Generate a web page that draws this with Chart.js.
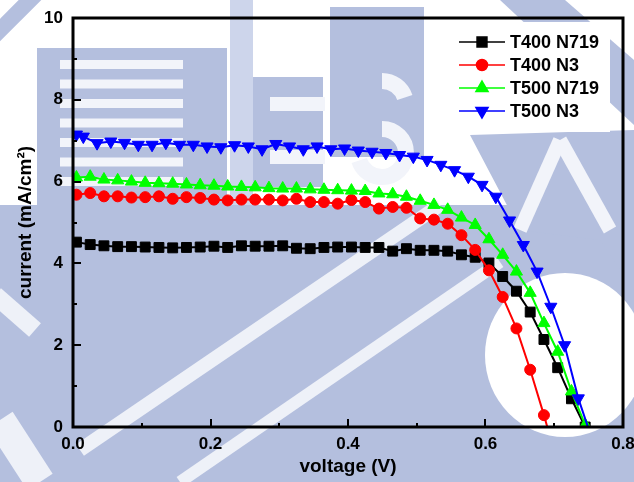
<!DOCTYPE html>
<html>
<head>
<meta charset="utf-8">
<script src="https://cdn.jsdelivr.net/npm/chart.js@4.4.1/dist/chart.umd.min.js"></script>
<style>
  html, body { margin: 0; padding: 0; background: #fff; overflow: hidden; }
  #wrap { width: 634px; height: 482px; }
</style>
</head>
<body>
<div id="wrap"><canvas id="c" width="634" height="482"></canvas></div>
<script>
// Bias voltage (V) for the T400 N719, T400 N3 and T500 N719 sweeps
const voltsA = [0.005, 0.025, 0.045, 0.065, 0.085, 0.105, 0.125, 0.145, 0.165, 0.185,
                0.205, 0.225, 0.245, 0.265, 0.285, 0.305, 0.325, 0.345, 0.365, 0.385,
                0.405, 0.425, 0.445, 0.465, 0.485, 0.505, 0.525, 0.545, 0.565, 0.585,
                0.605, 0.625, 0.645, 0.665, 0.685, 0.705, 0.725, 0.745];
// Bias voltage (V) for the T500 N3 sweep
const voltsB = [0.005, 0.015, 0.035, 0.055, 0.075, 0.095, 0.115, 0.135, 0.155, 0.175,
                0.195, 0.215, 0.235, 0.255, 0.275, 0.295, 0.315, 0.335, 0.355, 0.375,
                0.395, 0.415, 0.435, 0.455, 0.475, 0.495, 0.515, 0.535, 0.555, 0.575,
                0.595, 0.615, 0.635, 0.655, 0.675, 0.695, 0.715, 0.735, 0.755];

// Photocurrent density (mA/cm2)
const t400N719 = [4.52, 4.46, 4.43, 4.41, 4.41, 4.40, 4.39, 4.38, 4.39, 4.40,
                  4.42, 4.39, 4.43, 4.42, 4.42, 4.43, 4.37, 4.36, 4.39, 4.40,
                  4.40, 4.39, 4.39, 4.30, 4.36, 4.32, 4.32, 4.30, 4.21, 4.15,
                  4.01, 3.68, 3.32, 2.81, 2.14, 1.45, 0.69, 0.00];
const t400N3 =   [5.68, 5.72, 5.64, 5.64, 5.61, 5.62, 5.64, 5.58, 5.62, 5.60,
                  5.56, 5.54, 5.56, 5.56, 5.56, 5.54, 5.58, 5.50, 5.50, 5.46,
                  5.55, 5.50, 5.34, 5.38, 5.36, 5.10, 5.07, 4.97, 4.69, 4.33,
                  3.83, 3.18, 2.41, 1.40, 0.29, -0.90];
const t500N719 = [6.10, 6.12, 6.05, 6.03, 6.00, 5.97, 5.96, 5.95, 5.93, 5.91,
                  5.90, 5.88, 5.87, 5.86, 5.84, 5.83, 5.83, 5.81, 5.80, 5.79,
                  5.78, 5.77, 5.71, 5.69, 5.63, 5.53, 5.43, 5.31, 5.12, 4.94,
                  4.59, 4.21, 3.80, 3.28, 2.54, 1.84, 0.87, 0.05];
const t500N3 =   [7.15, 7.10, 6.94, 6.98, 6.95, 6.90, 6.90, 6.95, 6.90, 6.90,
                  6.86, 6.84, 6.89, 6.86, 6.79, 6.92, 6.86, 6.79, 6.86, 6.79,
                  6.81, 6.76, 6.73, 6.70, 6.65, 6.61, 6.53, 6.41, 6.28, 6.12,
                  5.92, 5.63, 5.05, 4.45, 3.80, 2.94, 2.00, 0.70, -0.30];

const seriesNames = ['T400 N719', 'T400 N3', 'T500 N719', 'T500 N3'];

// Axis ticks
const xMajor = [0, 0.2, 0.4, 0.6, 0.8];
const xMinor = [0.1, 0.3, 0.5, 0.7];
const yMajor = [0, 2, 4, 6, 8, 10];
const yMinor = [1, 3, 5, 7, 9];

const pts = (xs, ys) => ys.map((y, i) => ({ x: xs[i], y: y }));

const FONT = "'Liberation Sans', Arial, sans-serif";

function series(label, xs, ys, color, style, rotation, radius, order) {
  return {
    label: label,
    data: pts(xs, ys),
    borderColor: color,
    backgroundColor: color,
    borderWidth: 2,
    pointStyle: style,
    rotation: rotation,
    pointRadius: radius,
    pointBorderWidth: 1,
    pointBackgroundColor: color,
    pointBorderColor: color,
    tension: 0,
    clip: 0,
    order: order
  };
}

// Faint institutional watermark behind the plot
const backdrop = {
  id: 'backdrop',
  beforeDraw(chart) {
    const ctx = chart.ctx;
    const W = chart.width, H = chart.height;
    const blue = '#b4bfde', pale = '#cdd5eb', soft = '#eef1f8';
    ctx.save();
    ctx.fillStyle = '#ffffff';
    ctx.fillRect(0, 0, W, H);
    const poly = (p, c) => {
      ctx.beginPath();
      ctx.moveTo(p[0][0], p[0][1]);
      for (let i = 1; i < p.length; i++) ctx.lineTo(p[i][0], p[i][1]);
      ctx.closePath();
      ctx.fillStyle = c;
      ctx.fill();
    };
    const band = (x1, y1, x2, y2, w, c) => {
      ctx.beginPath();
      ctx.moveTo(x1, y1);
      ctx.lineTo(x2, y2);
      ctx.lineWidth = w;
      ctx.strokeStyle = c;
      ctx.stroke();
    };
    // corner stroke, top left
    band(-10, 40, 40, -10, 16, blue);
    // lower field
    ctx.fillStyle = blue;
    ctx.fillRect(0, 205, W, H - 205);
    // light circle of the emblem, lower right
    ctx.fillStyle = '#ffffff';
    ctx.beginPath();
    ctx.ellipse(565, 355, 80, 82, 0, 0, Math.PI * 2);
    ctx.fill();
    // diagonal light strokes through the lower field
    band(80, 450, 440, 205, 14, soft);
    band(180, 482, 500, 262, 12, soft);
    band(-5, 295, 35, 330, 18, soft);
    band(0, 420, 40, 482, 30, soft);
    // block letter with horizontal slats, upper left
    ctx.fillStyle = blue;
    ctx.fillRect(37, 48, 190, 157);
    ctx.fillStyle = '#f2f4fa';
    for (let k = 0; k < 7; k++) ctx.fillRect(60, 60 + k * 19.5, 123, 9);
    // upright bar and second letter
    ctx.fillStyle = pale;
    ctx.fillRect(230, 0, 23, 205);
    ctx.fillStyle = blue;
    ctx.fillRect(253, 77, 70, 110);
    ctx.fillStyle = '#f2f4fa';
    ctx.fillRect(270, 97, 55, 14);
    ctx.fillRect(270, 150, 55, 14);
    // S block
    ctx.fillStyle = blue;
    ctx.fillRect(330, 7, 94, 150);
    ctx.lineWidth = 16;
    ctx.strokeStyle = '#f2f4fa';
    ctx.beginPath();
    ctx.arc(382, 105, 24, -0.1 * Math.PI, 1.5 * Math.PI, true);
    ctx.stroke();
    ctx.beginPath();
    ctx.arc(382, 153, 24, 1.5 * Math.PI, 0.9 * Math.PI, false);
    ctx.stroke();
    // emblem ring, upper right
    poly([[500, 0], [565, 0], [634, 60], [634, 125]], blue);
    poly([[470, 135], [634, 130], [634, 290], [600, 240], [520, 230]], blue);
    band(560, 140, 520, 230, 14, '#f2f4fa');
    band(560, 140, 610, 230, 14, '#f2f4fa');
    ctx.restore();
  }
};

// Frame, inward ticks and the key
const frame = {
  id: 'frame',
  afterDraw(chart) {
    const ctx = chart.ctx;
    const a = chart.chartArea;
    const xs = chart.scales.x, ys = chart.scales.y;
    ctx.save();
    ctx.strokeStyle = '#000';
    ctx.lineWidth = 2;
    ctx.beginPath();
    xMajor.forEach(v => { const p = Math.round(xs.getPixelForValue(v)); ctx.moveTo(p, a.bottom); ctx.lineTo(p, a.bottom - 8); });
    xMinor.forEach(v => { const p = Math.round(xs.getPixelForValue(v)); ctx.moveTo(p, a.bottom); ctx.lineTo(p, a.bottom - 4); });
    yMajor.forEach(v => { const p = Math.round(ys.getPixelForValue(v)); ctx.moveTo(a.left, p); ctx.lineTo(a.left + 8, p); });
    yMinor.forEach(v => { const p = Math.round(ys.getPixelForValue(v)); ctx.moveTo(a.left, p); ctx.lineTo(a.left + 4, p); });
    ctx.stroke();
    ctx.lineWidth = 3;
    ctx.strokeRect(a.left, a.top, a.right - a.left, a.bottom - a.top);

    // key
    const bx = 449, by = 22, bw = 161, bh = 110;
    ctx.fillStyle = '#ffffff';
    ctx.fillRect(bx, by, bw, bh);
    const rows = [42, 65, 88, 111];
    chart.data.datasets.forEach((ds, i) => {
      const y = rows[i];
      ctx.strokeStyle = ds.borderColor;
      ctx.lineWidth = 1.5;
      ctx.beginPath();
      ctx.moveTo(459, y);
      ctx.lineTo(505, y);
      ctx.stroke();
      ctx.fillStyle = ds.backgroundColor;
      ctx.strokeStyle = ds.borderColor;
      Chart.helpers.drawPoint(ctx, {
        pointStyle: ds.pointStyle,
        rotation: ds.rotation || 0,
        radius: ds.pointRadius,
        borderWidth: 1
      }, 482, y);
      ctx.fillStyle = '#000';
      ctx.font = 'bold 18px ' + FONT;
      ctx.textBaseline = 'middle';
      ctx.textAlign = 'left';
      ctx.fillText(ds.label, 510, y + 1);
    });
    ctx.restore();
  }
};

new Chart(document.getElementById('c'), {
  type: 'line',
  data: {
    datasets: [
      series(seriesNames[0], voltsA, t400N719, '#000000', 'rect', 0, 7, 3),
      series(seriesNames[1], voltsA, t400N3, '#ff0000', 'circle', 0, 5.5, 2),
      series(seriesNames[2], voltsA, t500N719, '#00ff00', 'triangle', 0, 7, 1),
      series(seriesNames[3], voltsB, t500N3, '#0000ff', 'triangle', 180, 7, 0)
    ]
  },
  options: {
    responsive: false,
    animation: false,
    devicePixelRatio: 1,
    layout: { padding: { left: 0, top: 18, right: 11, bottom: 0 } },
    plugins: { legend: { display: false }, tooltip: { enabled: false } },
    scales: {
      x: {
        type: 'linear',
        min: 0, max: 0.8,
        grid: { display: false, drawTicks: false },
        border: { display: false },
        ticks: {
          stepSize: 0.2, padding: 7, color: '#000', maxRotation: 0, autoSkip: false,
          font: { family: FONT, weight: 'bold', size: 17 },
          callback: v => Number(v).toFixed(1)
        },
        title: {
          display: true, text: 'voltage (V)', color: '#000',
          font: { family: FONT, weight: 'bold', size: 19 },
          padding: { top: 0, bottom: 4 }
        },
        afterFit: s => { s.height = 55; s.paddingLeft = 0; s.paddingRight = 0; }
      },
      y: {
        min: 0, max: 10,
        grid: { display: false, drawTicks: false },
        border: { display: false },
        ticks: {
          stepSize: 2, padding: 10, color: '#000',
          font: { family: FONT, weight: 'bold', size: 17 }
        },
        title: {
          display: true, text: 'current (mA/cm\u00B2)', color: '#000',
          font: { family: FONT, weight: 'bold', size: 19 },
          padding: { top: 14, bottom: 0 }
        },
        afterFit: s => { s.width = 73; s.paddingTop = 0; s.paddingBottom = 0; }
      }
    }
  },
  plugins: [backdrop, frame]
});
</script>
</body>
</html>
